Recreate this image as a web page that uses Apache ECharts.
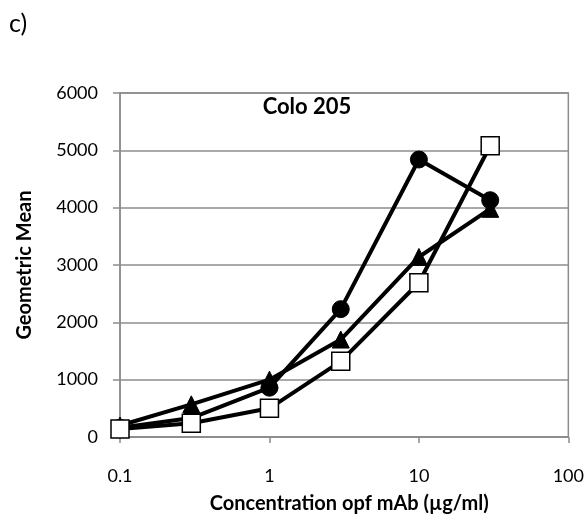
<!DOCTYPE html>
<html>
<head>
<meta charset="utf-8">
<script src="https://cdn.jsdelivr.net/npm/echarts@6/dist/echarts.min.js"></script>
<style>
  html, body { margin: 0; padding: 0; background: #fff; }
  #chart { width: 587px; height: 522px; }
</style>
</head>
<body>
<div id="chart"></div>
<script>
// Antibody concentrations (µg/ml) and geometric mean fluorescence, Colo 205
const concentrations = [0.1, 0.3, 1, 3, 10, 30];
const circleSeries   = [160, 330, 860, 2230, 4840, 4130];
const triangleSeries = [200, 570, 1000, 1700, 3140, 3980];
const squareSeries   = [140, 240, 500, 1320, 2690, 5080];
const yTicks = [0, 1000, 2000, 3000, 4000, 5000, 6000];

const FONT = 'Lato, "Open Sans", sans-serif';
const GRID_GRAY = '#8c8c8c';

const pairs = (vals) => concentrations.map((c, i) => [c, vals[i]]);

const chart = echarts.init(document.getElementById('chart'), null, { renderer: 'canvas' });

chart.setOption({
  animation: false,
  backgroundColor: '#fff',
  graphic: [
    { type: 'text', left: 9, top: 11, style: { text: 'c)', font: '25px ' + FONT, fill: '#000' } }
  ],
  title: {
    text: 'Colo 205',
    left: 302, top: 91, textAlign: 'center',
    textStyle: { fontFamily: FONT, fontSize: 22, fontWeight: 'bold', color: '#000' }
  },
  grid: {
    left: 120, right: 18, top: 93, bottom: 85,
    show: true, borderColor: GRID_GRAY, borderWidth: 1.5
  },
  xAxis: {
    type: 'log', logBase: 10, min: 0.1, max: 100,
    name: 'Concentration opf mAb (µg/ml)',
    nameLocation: 'middle', nameGap: 57,
    nameTextStyle: { fontFamily: FONT, fontSize: 20, fontWeight: 'bold', color: '#000', padding: [0, 0, 0, 10] },
    axisLine: { show: true, lineStyle: { color: GRID_GRAY, width: 1.5 } },
    axisTick: { show: true, length: 6, lineStyle: { color: GRID_GRAY, width: 1.5 } },
    minorTick: { show: false },
    splitLine: { show: false },
    axisLabel: {
      fontFamily: FONT, fontSize: 18, color: '#000', margin: 30,
      formatter: (v) => String(+v.toPrecision(3))
    }
  },
  yAxis: {
    type: 'value', min: 0, max: 6000, interval: 1000,
    name: 'Geometric Mean',
    nameLocation: 'middle', nameGap: 85, nameRotate: 90,
    nameTextStyle: { fontFamily: FONT, fontSize: 20, fontWeight: 'bold', color: '#000' },
    axisLine: { show: true, lineStyle: { color: GRID_GRAY, width: 1.5 } },
    axisTick: { show: true, length: 7, lineStyle: { color: GRID_GRAY, width: 1.5 } },
    splitLine: { show: true, lineStyle: { color: GRID_GRAY, width: 1.5 } },
    axisLabel: {
      fontFamily: FONT, fontSize: 18, color: '#000', margin: 22,
      formatter: (v) => yTicks.includes(v) ? String(v) : ''
    }
  },
  series: [
    {
      name: 'circle', type: 'line', data: pairs(circleSeries),
      symbol: 'circle', symbolSize: 17,
      lineStyle: { color: '#000', width: 4 },
      itemStyle: { color: '#000', borderColor: '#000' },
      z: 2
    },
    {
      name: 'triangle', type: 'line', data: pairs(triangleSeries),
      symbol: 'triangle', symbolSize: 17,
      lineStyle: { color: '#000', width: 4 },
      itemStyle: { color: '#000', borderColor: '#000' },
      z: 3
    },
    {
      name: 'square', type: 'line', data: pairs(squareSeries),
      symbol: 'rect', symbolSize: 18, showAllSymbol: true,
      lineStyle: { color: '#000', width: 4 },
      itemStyle: { color: '#fff', borderColor: '#000', borderWidth: 1.5 },
      z: 4
    }
  ]
});
</script>
</body>
</html>
